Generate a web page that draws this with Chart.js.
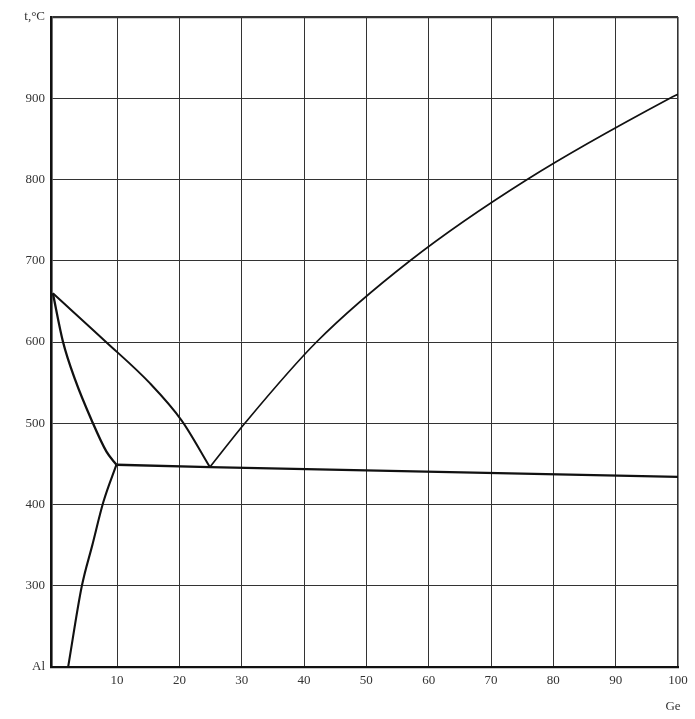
<!DOCTYPE html>
<html>
<head>
<meta charset="utf-8">
<script src="https://cdn.jsdelivr.net/npm/chart.js@4/dist/chart.umd.min.js"></script>
<style>
  html, body { margin: 0; padding: 0; background: #fff; }
  #wrap { position: relative; width: 695px; height: 719px; }
</style>
</head>
<body>
<div id="wrap"><canvas id="c" width="695" height="719"></canvas></div>
<script>
// Composition (at.% Ge) and temperature (°C)
const liquidusAlX = [-0.3, 8.1, 15.3, 20.4, 24.9];
const liquidusAlT = [660, 601, 549, 503, 446];
const liquidusGeX = [24.9, 30.5, 42.0, 57.0, 75.8, 98.7, 100];
const liquidusGeT = [446, 500, 600, 700, 800, 900, 905];
const solidusX = [-0.3, 1.3, 3.3, 5.9, 8.3, 9.9];
const solidusT = [660, 601, 553, 504, 465, 449];
const solvusX = [2.15, 4.33, 6.03, 7.8, 9.9];
const solvusT = [200, 299, 350, 403, 449];
const eutecticX = [9.9, 24.9, 100];
const eutecticT = [449, 446, 434];

const xTicks = [10, 20, 30, 40, 50, 60, 70, 80, 90, 100];
const xTickLabels = ['10', '20', '30', '40', '50', '60', '70', '80', '90', '100'];
const yTicks = [200, 300, 400, 500, 600, 700, 800, 900, 1000];
const yTickLabels = ['Al', '300', '400', '500', '600', '700', '800', '900', 't,°C'];
const xAxisName = 'Ge';

function pts(xs, ys) { return xs.map((x, i) => ({ x: x, y: ys[i] })); }

const FONT = { family: '"Liberation Serif", "DejaVu Serif", serif', size: 13 };

const lineDs = (xs, ys, w, smooth) => ({
  data: pts(xs, ys),
  showLine: true,
  borderColor: '#111',
  borderWidth: w,
  pointRadius: 0,
  cubicInterpolationMode: smooth ? 'monotone' : 'default',
  tension: 0,
  fill: false
});

const extraText = {
  id: 'extraText',
  afterDraw(chart) {
    const ctx = chart.ctx;
    const xs = chart.scales.x;
    ctx.save();
    ctx.font = '13px "Liberation Serif", serif';
    ctx.fillStyle = '#333';
    ctx.textAlign = 'center';
    ctx.textBaseline = 'middle';
    ctx.fillText(xAxisName, xs.getPixelForValue(100) - 5, 707);
    ctx.restore();
  }
};

new Chart(document.getElementById('c'), {
  type: 'scatter',
  data: {
    datasets: [
      lineDs(liquidusAlX, liquidusAlT, 2, true),
      lineDs(liquidusGeX, liquidusGeT, 1.7, true),
      lineDs(solidusX, solidusT, 2.3, true),
      lineDs(solvusX, solvusT, 2.1, true),
      lineDs(eutecticX, eutecticT, 2.4, false)
    ]
  },
  options: {
    responsive: false,
    animation: false,
    devicePixelRatio: 1,
    layout: { padding: { top: 17, right: 17, left: 0, bottom: 0 } },
    plugins: { legend: { display: false }, tooltip: { enabled: false } },
    scales: {
      x: {
        type: 'linear',
        min: -0.6,
        max: 100,
        afterBuildTicks: (s) => { s.ticks = xTicks.map(v => ({ value: v })); },
        afterFit: (s) => { s.height = 52; },
        ticks: {
          padding: 6,
          font: FONT,
          color: '#333',
          maxRotation: 0,
          autoSkip: false,
          callback: (v) => { const i = xTicks.indexOf(v); return i >= 0 ? xTickLabels[i] : ''; }
        },
        grid: {
          color: '#333',
          lineWidth: (c) => (c.tick && c.tick.value === 100 ? 1.6 : 1),
          drawTicks: false
        },
        border: { color: '#111', width: 2.2 }
      },
      y: {
        type: 'linear',
        min: 200,
        max: 1000,
        afterBuildTicks: (s) => { s.ticks = yTicks.map(v => ({ value: v })); },
        afterFit: (s) => { s.width = 51; },
        ticks: {
          padding: 6,
          font: FONT,
          color: '#333',
          autoSkip: false,
          callback: (v) => { const i = yTicks.indexOf(v); return i >= 0 ? yTickLabels[i] : ''; }
        },
        grid: {
          color: '#333',
          lineWidth: (c) => (c.tick && c.tick.value === 1000 ? 2.2 : 1),
          drawTicks: false
        },
        border: { color: '#111', width: 2.6 }
      }
    }
  },
  plugins: [extraText]
});
</script>
</body>
</html>
